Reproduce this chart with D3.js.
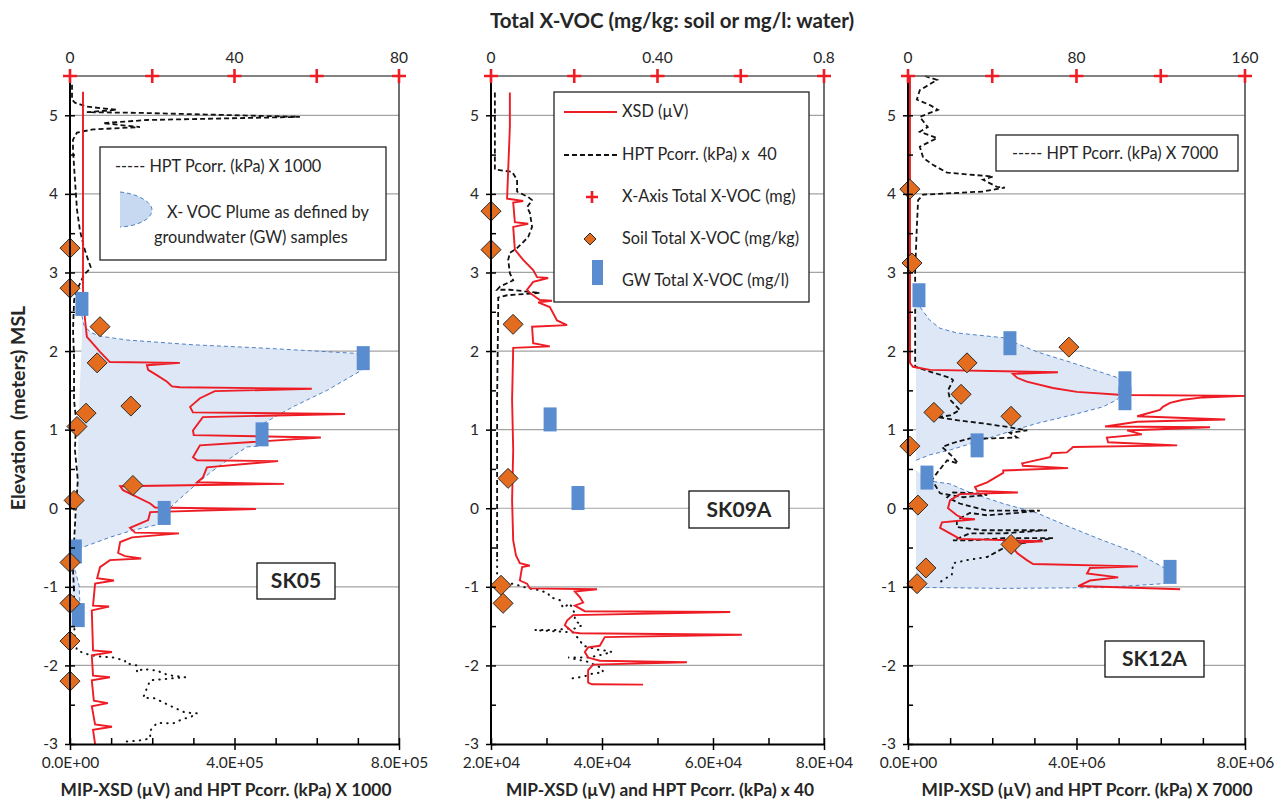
<!DOCTYPE html>
<html>
<head>
<meta charset="utf-8">
<script src="https://cdn.jsdelivr.net/npm/d3@7"></script>
<style>
  body { margin: 0; background: #fff; }
  text { font-family: Lato, "Open Sans", sans-serif; fill: #262626; }
</style>
</head>
<body>
<div id="chart"></div>
<script>
// ---- shared
const elevTicks = [-3, -2, -1, 0, 1, 2, 3, 4, 5];
const elevMinor = [-2.5, -1.5, -0.5, 0.5, 1.5, 2.5, 3.5, 4.5];

// ---- SK05  ([elevation, value])
const sk05XMajor = [0, 4e5, 8e5];
const sk05XMinor = [1e5, 2e5, 3e5, 5e5, 6e5, 7e5];
const sk05TopCross = [0, 20, 40, 60, 80];
const sk05TopTicks = [0, 40, 80];
const sk05TopLabels = ['0', '40', '80'];
const sk05Xsd = [[5.30,31600],[2.78,31600],[2.43,36000],[2.18,41000],[2.11,53000],[1.99,73000],[1.86,97000],[1.85,267000],[1.82,187000],[1.76,190000],[1.69,212000],[1.61,236000],[1.55,248000],[1.54,267000],[1.52,588000],[1.49,352000],[1.40,316000],[1.29,292000],[1.22,299000],[1.20,669000],[1.16,323000],[0.99,299000],[0.93,301000],[0.90,610000],[0.80,316000],[0.65,299000],[0.61,309000],[0.60,506000],[0.52,333000],[0.39,323000],[0.33,309000],[0.31,520000],[0.28,122000],[0.23,129000],[0.06,195000],[0.01,207000],[-0.01,452000],[-0.05,195000],[-0.15,190000],[-0.25,146000],[-0.31,158000],[-0.32,265000],[-0.37,151000],[-0.43,122000],[-0.57,117000],[-0.61,134000],[-0.64,173000],[-0.66,97000],[-0.75,73000],[-0.89,66000],[-0.92,107000],[-0.96,61000],[-1.24,56000],[-1.25,95000],[-1.30,53000],[-1.81,56000],[-1.83,102000],[-1.87,53000],[-2.13,56000],[-2.15,97000],[-2.19,53000],[-2.45,58000],[-2.48,92000],[-2.52,53000],[-2.75,61000],[-2.78,102000],[-2.82,56000],[-3.0,61000]];
const sk05HptDash = [[5.39,4900],[5.20,4900],[5.16,12000],[5.11,41000],[5.07,114000],[5.04,41000],[5.03,178000],[4.98,559000],[4.94,187000],[4.90,80000],[4.85,170000],[4.82,56000],[4.78,17000],[4.69,7300],[4.56,7300],[4.18,12000],[3.80,17000],[3.54,24000],[3.32,34000],[3.16,44000],[3.06,51000],[2.97,34000],[2.78,17000],[2.65,10000],[2.27,7300],[1.89,10000],[1.38,9700],[1.12,15000],[0.74,12000],[0.36,19000],[-0.03,14000],[-0.41,10000],[-0.79,7300],[-1.04,9700]];
const sk05HptDot = [[-1.04,9700],[-1.43,9700],[-1.68,12000],[-1.81,17000],[-1.87,49000],[-1.89,78000],[-1.90,105000],[-1.94,134000],[-1.97,134000],[-2.00,163000],[-2.09,163000],[-2.04,178000],[-2.06,195000],[-2.06,212000],[-2.10,224000],[-2.13,248000],[-2.15,280000],[-2.19,195000],[-2.29,187000],[-2.41,178000],[-2.42,207000],[-2.47,226000],[-2.53,250000],[-2.60,280000],[-2.61,309000],[-2.66,292000],[-2.68,275000],[-2.74,250000],[-2.73,212000],[-2.83,195000],[-2.93,195000],[-2.96,163000],[-2.97,129000]];
const sk05Soil = [[3.31,0],[2.80,0],[2.31,7.3],[1.85,6.6],[1.30,14.8],[1.21,3.9],[1.04,1.7],[0.29,15.3],[0.10,1.0],[-0.69,0],[-1.21,0],[-1.69,0],[-2.20,0]];
const sk05Gw = [[2.60,2.9],[1.91,71.3],[0.94,46.7],[-0.06,22.9],[-0.55,1.3],[-1.36,2.0]];
const sk05PlumeOuter = [[2.45,2.9],[2.33,3.4],[2.24,4.9],[2.19,7.3],[2.14,13.9],[2.08,29.9],[2.04,46.2],[1.97,69.8],[1.76,71.0],[1.67,68.1],[1.50,62.5],[1.29,54.2],[1.07,46.7],[0.79,45.7],[0.78,43.0],[0.61,38.2],[0.45,34.0],[0.27,29.9],[0.04,25.0],[-0.06,23.3],[-0.20,21.9],[-0.23,19.5],[-0.29,14.6],[-0.37,9.7],[-0.51,2.4],[-0.56,1.5]];
const sk05PlumeInner = [[-0.41,1.2],[0.06,1.7],[0.70,1.9],[1.54,2.4],[2.18,2.9]];
const sk05Plume2Outer = [[-0.70,0.6],[-0.82,1.4],[-0.98,2.2],[-1.21,2.4]];
const sk05Plume2Inner = [[-1.21,0.4],[-0.70,0.3]];

// ---- SK09A
const sk09XMajor = [2e4, 4e4, 6e4, 8e4];
const sk09XMinor = [3e4, 5e4, 7e4];
const sk09TopCross = [0, 0.2, 0.4, 0.6, 0.8];
const sk09TopTicks = [0, 0.4, 0.8];
const sk09TopLabels = ['0', '0.40', '0.8'];
const sk09Xsd = [[5.29,23400],[4.85,23400],[4.31,23100],[3.94,22900],[3.91,25800],[3.89,24000],[3.64,24300],[3.62,26700],[3.58,24000],[3.29,24300],[3.16,25800],[3.03,27600],[2.94,28300],[2.93,30300],[2.88,27600],[2.78,26500],[2.74,27000],[2.65,28800],[2.64,31000],[2.62,28500],[2.56,30600],[2.39,31900],[2.33,33700],[2.31,27400],[2.10,27600],[2.06,30600],[2.04,24000],[1.38,23800],[0.74,24000],[0.10,23800],[-0.41,24000],[-0.60,24500],[-0.70,25200],[-0.73,27000],[-0.75,25600],[-0.92,25200],[-0.96,26500],[-1.02,27000],[-1.03,39100],[-1.06,35100],[-1.13,36000],[-1.20,36600],[-1.24,35100],[-1.31,36900],[-1.32,63100],[-1.36,34800],[-1.43,33700],[-1.49,33300],[-1.58,34800],[-1.59,36000],[-1.61,65200],[-1.64,40500],[-1.75,39600],[-1.77,37500],[-1.83,36900],[-1.90,37500],[-1.94,39600],[-1.96,55300],[-1.99,38400],[-2.06,37500],[-2.22,37500],[-2.24,38200],[-2.245,47400]];
const sk09HptDash = [[5.29,20700],[4.31,20700],[4.28,23800],[4.18,24700],[4.03,24700],[3.96,26700],[3.92,27400],[3.83,26500],[3.76,27000],[3.58,27400],[3.45,26700],[3.31,24700],[3.25,23400],[3.16,23100],[2.99,23400],[2.90,24000],[2.82,21600],[2.78,21100],[2.78,23400],[2.74,28800],[2.71,22900],[2.68,21300],[2.56,21300],[1.38,21100],[0.10,21100],[-0.66,21100]];
const sk09HptDot = [[-0.66,21100],[-0.85,21100],[-0.94,22500],[-0.98,24900],[-1.02,26700],[-1.04,28500],[-1.08,30300],[-1.13,30600],[-1.17,32400],[-1.27,33000],[-1.21,34200],[-1.34,35100],[-1.43,35100],[-1.49,36400],[-1.53,35100],[-1.53,33700],[-1.55,31500],[-1.55,29700],[-1.55,27900],[-1.58,34800],[-1.68,36000],[-1.75,36600],[-1.77,37800],[-1.80,39100],[-1.81,40500],[-1.83,41800],[-1.87,39600],[-1.90,37500],[-1.90,35700],[-1.90,33900],[-1.96,37800],[-2.00,38700],[-2.03,40000],[-2.09,40200],[-2.10,38400],[-2.13,37300],[-2.15,36000],[-2.17,34200]];
const sk09Soil = [[3.78,0],[3.29,0],[2.34,0.053],[0.38,0.041],[-0.98,0.024],[-1.21,0.029]];
const sk09Gw = [[1.13,0.142],[0.13,0.209]];

// ---- SK12A
const sk12XMajor = [0, 4e6, 8e6];
const sk12XMinor = [1e6, 2e6, 3e6, 5e6, 6e6, 7e6];
const sk12TopCross = [0, 40, 80, 120, 160];
const sk12TopTicks = [0, 80, 160];
const sk12TopLabels = ['0', '80', '160'];
const sk12Xsd = [[5.50,47000],[1.85,47000],[1.80,119000],[1.76,522000],[1.73,3.56e6],[1.71,2.49e6],[1.66,2.59e6],[1.61,2.82e6],[1.53,3.44e6],[1.48,4.01e6],[1.44,5.10e6],[1.43,8.0e6],[1.41,7.00e6],[1.38,6.53e6],[1.34,6.22e6],[1.29,6.05e6],[1.25,5.98e6],[1.17,5.44e6],[1.13,7.53e6],[1.10,5.44e6],[1.04,4.68e6],[1.03,7.17e6],[0.99,5.20e6],[0.94,5.55e6],[0.90,4.72e6],[0.84,4.75e6],[0.80,6.39e6],[0.78,3.92e6],[0.71,3.77e6],[0.70,3.42e6],[0.65,3.37e6],[0.57,2.71e6],[0.54,2.73e6],[0.51,3.80e6],[0.48,2.26e6],[0.45,2.26e6],[0.33,1.88e6],[0.27,1.59e6],[0.22,1.64e6],[0.20,2.61e6],[0.18,1.23e6],[0.10,0.997e6],[0.00,0.95e6],[-0.09,1.16e6],[-0.13,1.31e6],[-0.14,1.59e6],[-0.18,0.807e6],[-0.25,0.76e6],[-0.32,0.997e6],[-0.39,1.23e6],[-0.42,3.20e6],[-0.45,2.26e6],[-0.50,2.49e6],[-0.57,2.59e6],[-0.66,2.82e6],[-0.71,2.97e6],[-0.74,5.46e6],[-0.76,4.32e6],[-0.83,4.25e6],[-0.88,4.99e6],[-0.92,4.32e6],[-0.99,4.04e6],[-1.03,6.46e6]];
const sk12HptDash = [[5.50,0.40e6],[5.45,0.69e6],[5.32,0.28e6],[5.20,0.21e6],[5.13,0.52e6],[5.07,0.71e6],[4.98,0.28e6],[4.85,0.47e6],[4.79,0.28e6],[4.71,0.69e6],[4.60,0.28e6],[4.46,0.36e6],[4.37,0.59e6],[4.27,0.93e6],[4.22,2.02e6],[4.18,1.78e6],[4.09,2.11e6],[4.08,2.30e6],[4.03,1.78e6],[3.99,0.36e6],[3.92,0.24e6],[3.58,0.21e6],[3.03,0.17e6],[1.80,0.17e6],[1.73,0.57e6],[1.66,1.00e6],[1.63,1.07e6],[1.50,0.95e6],[1.38,1.00e6],[1.25,1.23e6],[1.18,1.00e6],[1.16,0.69e6],[1.12,1.16e6],[1.08,1.78e6],[1.03,2.42e6],[0.99,2.83e6],[0.96,2.42e6],[0.90,2.59e6],[0.89,2.02e6],[0.89,1.47e6],[0.83,1.07e6],[0.78,0.81e6],[0.65,1.07e6],[0.57,1.19e6],[0.61,0.93e6],[0.45,0.69e6],[0.36,0.57e6],[0.19,0.76e6],[0.14,1.31e6],[0.17,1.88e6],[0.19,1.64e6],[0.20,1.07e6],[0.14,0.93e6],[0.06,1.23e6],[-0.03,1.88e6],[-0.03,2.49e6],[-0.03,3.13e6],[-0.06,2.59e6],[-0.09,1.88e6],[-0.06,1.47e6],[-0.15,1.16e6],[-0.24,1.16e6],[-0.28,1.78e6],[-0.28,2.59e6],[-0.28,3.30e6],[-0.32,2.26e6],[-0.32,1.47e6],[-0.41,1.07e6],[-0.41,1.47e6],[-0.38,2.26e6],[-0.38,3.44e6],[-0.45,2.66e6],[-0.51,2.26e6],[-0.62,1.88e6]];
const sk12HptDot = [[-0.62,1.88e6],[-0.66,1.40e6],[-0.70,1.07e6],[-0.85,1.04e6],[-0.88,0.93e6],[-0.94,0.76e6]];
const sk12Soil = [[4.06,0.9],[3.12,1.9],[2.05,76.4],[1.85,28.0],[1.45,25.2],[1.22,12.3],[1.17,48.9],[0.79,0.9],[0.04,4.7],[-0.46,48.9],[-0.76,8.5],[-0.96,4.3]];
const sk12Gw = [[2.71,5.2],[2.10,48.4],[1.59,103],[1.40,103],[0.80,32.8],[0.39,9.0],[-0.81,124.4]];
const sk12PlumeOuter = [[2.56,5.7],[2.39,10.4],[2.29,15.2],[2.23,23.3],[2.17,45.1],[1.99,61.2],[1.86,76.9],[1.66,99.7],[1.50,103],[1.38,99.2],[1.29,92.6],[1.18,76.9],[1.08,61.2],[0.99,49.9],[0.87,35.6],[0.74,19.9],[0.68,10.4],[0.64,6.6],[0.61,3.8]];
const sk12PlumeInner = [[2.56,3.8]];
const sk12Plume2Outer = [[0.38,9.0],[0.34,11.9],[0.31,19.9],[0.20,29.4],[0.06,45.1],[-0.06,61.2],[-0.24,76.9],[-0.41,92.6],[-0.57,108.7],[-0.75,121.1],[-0.85,125.3],[-0.96,121.1],[-1.01,92.6],[-1.02,45.1],[-1.01,13.8],[-1.01,4.7]];
const sk12Plume2Inner = [[-1.01,3.8],[0.48,3.8]];

// ---- layout / styles
const plotTop = 76;
const plotBottom = 744;
const RED = '#ee1c24';
const ORANGE = '#e46c1e';
const BLUE = '#5a8dcf';
const PLUME = '#dde7f5';

const panels = [
  { x0: 70, x1: 399, xDomain: [0, 8e5], xMajor: sk05XMajor, xMinor: sk05XMinor,
    topDomain: [0, 80], topCross: sk05TopCross, topTicks: sk05TopTicks, topLabels: sk05TopLabels,
    xsd: sk05Xsd, hptDash: sk05HptDash, hptDot: sk05HptDot, soil: sk05Soil, gw: sk05Gw,
    plumes: [[sk05PlumeOuter, sk05PlumeInner], [sk05Plume2Outer, sk05Plume2Inner]],
    name: 'SK05', box: [257, 563, 78, 36],
    xTitle: 'MIP-XSD (\u00b5V) and HPT Pcorr. (kPa) X 1000', xTitleX: 226 },
  { x0: 491, x1: 824, xDomain: [2e4, 8e4], xMajor: sk09XMajor, xMinor: sk09XMinor,
    topDomain: [0, 0.8], topCross: sk09TopCross, topTicks: sk09TopTicks, topLabels: sk09TopLabels,
    xsd: sk09Xsd, hptDash: sk09HptDash, hptDot: sk09HptDot, soil: sk09Soil, gw: sk09Gw,
    plumes: [],
    name: 'SK09A', box: [689, 491, 100, 37],
    xTitle: 'MIP-XSD (\u00b5V) and HPT Pcorr. (kPa) x 40', xTitleX: 660 },
  { x0: 908, x1: 1245, xDomain: [0, 8e6], xMajor: sk12XMajor, xMinor: sk12XMinor,
    topDomain: [0, 160], topCross: sk12TopCross, topTicks: sk12TopTicks, topLabels: sk12TopLabels,
    xsd: sk12Xsd, hptDash: sk12HptDash, hptDot: sk12HptDot, soil: sk12Soil, gw: sk12Gw,
    plumes: [[sk12PlumeOuter, sk12PlumeInner], [sk12Plume2Outer, sk12Plume2Inner]],
    name: 'SK12A', box: [1105, 641, 99, 36],
    xTitle: 'MIP-XSD (\u00b5V) and HPT Pcorr. (kPa) X 7000', xTitleX: 1087 },
];

const svg = d3.select('#chart').append('svg')
  .attr('width', 1277).attr('height', 799);

const y = d3.scaleLinear().domain([-3, 5.5]).range([plotBottom, plotTop]);

function sciFormat(v) {
  if (v === 0) return '0.0E+00';
  const e = Math.floor(Math.log10(v));
  return `${(v / Math.pow(10, e)).toFixed(1)}E+${String(e).padStart(2, '0')}`;
}

function cross(sel, cx, cy, r) {
  sel.append('path')
    .attr('d', `M${cx - r},${cy}H${cx + r}M${cx},${cy - r}V${cy + r}`)
    .attr('stroke', RED).attr('stroke-width', 2.6).attr('fill', 'none');
}

function diamond(sel, cx, cy, r) {
  sel.append('path')
    .attr('d', `M${cx},${cy - r}L${cx + r},${cy}L${cx},${cy + r}L${cx - r},${cy}Z`)
    .attr('fill', ORANGE).attr('stroke', '#2b2b2b').attr('stroke-width', 1);
}

function drawPanel(p) {
  const x = d3.scaleLinear().domain(p.xDomain).range([p.x0, p.x1]);
  const xt = d3.scaleLinear().domain(p.topDomain).range([p.x0, p.x1]);
  const g = svg.append('g');

  // grid
  g.append('g').selectAll('line')
    .data(elevTicks.filter(d => d > -3))
    .enter().append('line')
    .attr('x1', p.x0).attr('x2', p.x1)
    .attr('y1', d => y(d)).attr('y2', d => y(d))
    .attr('stroke', '#a3a3a3').attr('stroke-width', 1.2);

  // plumes (top-axis units)
  const tline = d3.line().x(d => xt(d[1])).y(d => y(d[0]));
  p.plumes.forEach(([outer, inner]) => {
    g.append('path').attr('d', tline(outer.concat(inner)) + 'Z')
      .attr('fill', PLUME).attr('stroke', 'none');
    g.append('path').attr('d', tline(outer))
      .attr('fill', 'none').attr('stroke', '#4f81c6').attr('stroke-width', 1)
      .attr('stroke-dasharray', '4 3');
  });

  const vline = d3.line().x(d => x(d[1])).y(d => y(d[0]));

  // HPT
  g.append('path').attr('d', vline(p.hptDash))
    .attr('fill', 'none').attr('stroke', '#111').attr('stroke-width', 1.8)
    .attr('stroke-dasharray', '5 3');
  g.append('path').attr('d', vline(p.hptDot))
    .attr('fill', 'none').attr('stroke', '#111').attr('stroke-width', 2)
    .attr('stroke-linecap', 'round').attr('stroke-dasharray', '0.5 6');

  // XSD
  g.append('path').attr('d', vline(p.xsd))
    .attr('fill', 'none').attr('stroke', RED).attr('stroke-width', 1.9)
    .attr('stroke-miterlimit', 4);

  // GW rects
  g.append('g').selectAll('rect')
    .data(p.gw).enter().append('rect')
    .attr('x', d => xt(d[1]) - 6.5).attr('y', d => y(d[0]) - 12)
    .attr('width', 13).attr('height', 24)
    .attr('fill', BLUE);

  // soil diamonds
  const sg = g.append('g');
  p.soil.forEach(d => diamond(sg, xt(d[1]), y(d[0]), 10));

  // frame
  g.append('line').attr('x1', p.x0).attr('x2', p.x1).attr('y1', plotTop).attr('y2', plotTop)
    .attr('stroke', '#595959').attr('stroke-width', 1.5);
  g.append('line').attr('x1', p.x1).attr('x2', p.x1).attr('y1', plotTop).attr('y2', plotBottom)
    .attr('stroke', '#404040').attr('stroke-width', 1.5);

  // y axis
  const ya = g.append('g').attr('transform', `translate(${p.x0},0)`)
    .call(d3.axisLeft(y).tickValues(elevTicks).tickSize(5).tickSizeOuter(0)
      .tickPadding(7).tickFormat(d => String(d)));
  g.append('g').attr('transform', `translate(${p.x0},0)`)
    .call(d3.axisRight(y).tickValues(elevTicks.concat(elevMinor)).tickSize(5).tickFormat(''))
    .call(a => a.select('.domain').remove());
  ya.select('.domain').attr('d', `M0,${plotTop}V${plotBottom}`);

  // bottom axis
  g.append('g').attr('transform', `translate(0,${plotBottom})`)
    .call(d3.axisBottom(x).tickValues(p.xMajor).tickSize(6).tickSizeOuter(0)
      .tickPadding(7).tickFormat(sciFormat));
  g.append('g').attr('transform', `translate(0,${plotBottom})`)
    .call(d3.axisTop(x).tickValues(p.xMajor.concat(p.xMinor)).tickSize(6).tickFormat(''))
    .call(a => a.select('.domain').remove());

  g.selectAll('.domain').attr('stroke', '#000').attr('stroke-width', 2);
  g.selectAll('.tick line').attr('stroke', '#000').attr('stroke-width', 1.5);
  g.selectAll('.tick text').attr('font-size', 15.5).attr('fill', '#262626')
    .attr('font-family', 'Lato, sans-serif');

  // top axis: crosses and labels
  const tg = g.append('g');
  p.topCross.forEach(v => cross(tg, xt(v), plotTop, 7));
  tg.selectAll('text').data(p.topTicks).enter().append('text')
    .attr('x', d => xt(d)).attr('y', 63)
    .attr('text-anchor', 'middle').attr('font-size', 15.5)
    .text((d, i) => p.topLabels[i]);

  // station label
  const [bx, by, bw, bh] = p.box;
  g.append('rect').attr('x', bx).attr('y', by).attr('width', bw).attr('height', bh)
    .attr('fill', '#fff').attr('stroke', '#111').attr('stroke-width', 1.3);
  g.append('text').attr('x', bx + bw / 2).attr('y', by + bh / 2 + 7)
    .attr('text-anchor', 'middle').attr('font-size', 21).attr('font-weight', 'bold')
    .text(p.name);

  // x title
  g.append('text').attr('x', p.xTitleX).attr('y', 796)
    .attr('text-anchor', 'middle').attr('font-size', 17.3).attr('font-weight', 'bold')
    .text(p.xTitle);
}

panels.forEach(drawPanel);

// global titles
svg.append('text').attr('x', 672).attr('y', 28)
  .attr('text-anchor', 'middle').attr('font-size', 20.5).attr('font-weight', 'bold')
  .text('Total X-VOC (mg/kg: soil or mg/l: water)');
svg.append('text').attr('transform', 'translate(25,408) rotate(-90)')
  .attr('text-anchor', 'middle').attr('font-size', 19.5).attr('font-weight', 'bold')
  .style('white-space', 'pre')
  .text('Elevation  (meters) MSL');

// legend SK05
const l1 = svg.append('g');
l1.append('rect').attr('x', 100).attr('y', 147).attr('width', 286).attr('height', 113)
  .attr('fill', '#fff').attr('stroke', '#111').attr('stroke-width', 1.2);
l1.append('text').attr('x', 115).attr('y', 172).attr('font-size', 16.3)
  .text('----- HPT Pcorr. (kPa) X 1000');
l1.append('path').attr('d', 'M120,192C140,194 152,203 152,210C152,218 140,226 120,227Z')
  .attr('fill', '#c6d9f0');
l1.append('path').attr('d', 'M120,192C140,194 152,203 152,210C152,218 140,226 120,227')
  .attr('fill', 'none').attr('stroke', '#4f81c6').attr('stroke-dasharray', '4 3');
l1.append('text').attr('x', 167).attr('y', 218).attr('font-size', 16.3)
  .text('X- VOC Plume as defined by');
l1.append('text').attr('x', 154).attr('y', 243).attr('font-size', 16.3)
  .text('groundwater (GW) samples');

// legend SK09A
const l2 = svg.append('g');
l2.append('rect').attr('x', 554).attr('y', 92).attr('width', 255).attr('height', 210)
  .attr('fill', '#fff').attr('stroke', '#111').attr('stroke-width', 1.2);
l2.append('line').attr('x1', 564).attr('x2', 617).attr('y1', 112).attr('y2', 112)
  .attr('stroke', RED).attr('stroke-width', 2);
l2.append('line').attr('x1', 564).attr('x2', 617).attr('y1', 155).attr('y2', 155)
  .attr('stroke', '#111').attr('stroke-width', 1.8).attr('stroke-dasharray', '5 3');
cross(l2, 592, 197, 6);
diamond(l2, 590, 239, 6);
l2.append('rect').attr('x', 592).attr('y', 260).attr('width', 11).attr('height', 25).attr('fill', BLUE);
const l2Labels = ['XSD (\u00b5V)', 'HPT Pcorr. (kPa) x  40', 'X-Axis Total X-VOC (mg)',
  'Soil Total X-VOC (mg/kg)', 'GW Total X-VOC (mg/l)'];
const l2Y = [117, 160, 202, 244, 286];
l2.selectAll('text.item').data(l2Labels).enter().append('text')
  .attr('class', 'item').attr('x', 622).attr('y', (d, i) => l2Y[i])
  .attr('font-size', 16.3).style('white-space', 'pre').text(d => d);

// legend SK12A
const l3 = svg.append('g');
l3.append('rect').attr('x', 996).attr('y', 135).attr('width', 242).attr('height', 36)
  .attr('fill', '#fff').attr('stroke', '#111').attr('stroke-width', 1.2);
l3.append('text').attr('x', 1012).attr('y', 159).attr('font-size', 16.3)
  .text('----- HPT Pcorr. (kPa) X 7000');
</script>
</body>
</html>
